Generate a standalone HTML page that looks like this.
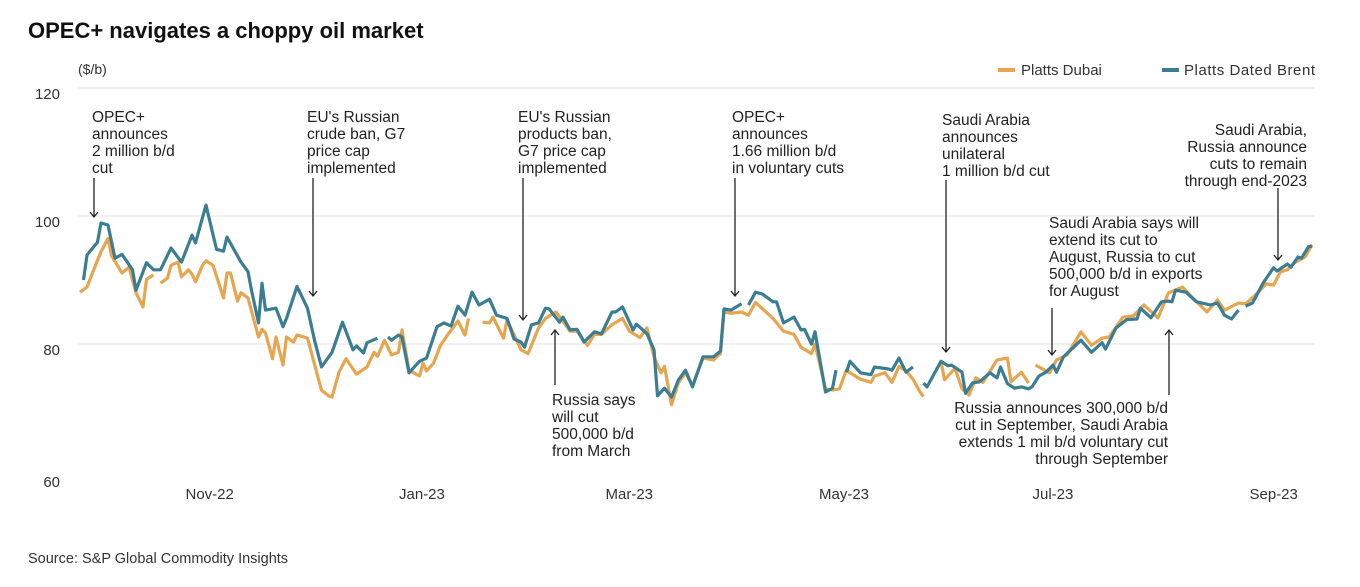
<!DOCTYPE html>
<html><head><meta charset="utf-8"><style>
body{margin:0;background:#fff;font-family:"Liberation Sans",sans-serif;}
svg text{font-family:"Liberation Sans",sans-serif;}
</style></head><body>
<svg id="chart" width="1360" height="582" viewBox="0 0 1360 582" xmlns="http://www.w3.org/2000/svg">
<text x="28" y="38" font-size="22" font-weight="bold" fill="#111">OPEC+ navigates a choppy oil market</text>
<text x="78" y="74" font-size="14" fill="#333">($/b)</text>
<g>
<line x1="998" y1="70" x2="1015" y2="70" stroke="#e8a550" stroke-width="4"/>
<text x="1021" y="75" font-size="15" fill="#333">Platts Dubai</text>
<line x1="1162" y1="70" x2="1179" y2="70" stroke="#3b7d92" stroke-width="4"/>
<text x="1184" y="75" font-size="15" fill="#333" textLength="131">Platts Dated Brent</text>
</g>
<g id="grid"></g><g id="yticks"></g><g id="xticks"></g><g id="series"></g>
<g font-size="15.5" fill="#222">
<text x="92" y="122"><tspan x="92">OPEC+</tspan><tspan x="92" dy="17">announces</tspan><tspan x="92" dy="17">2 million b/d</tspan><tspan x="92" dy="17">cut</tspan></text>
<text x="307" y="122"><tspan x="307">EU's Russian</tspan><tspan x="307" dy="17">crude ban, G7</tspan><tspan x="307" dy="17">price cap</tspan><tspan x="307" dy="17">implemented</tspan></text>
<text x="518" y="122"><tspan x="518">EU's Russian</tspan><tspan x="518" dy="17">products ban,</tspan><tspan x="518" dy="17">G7 price cap</tspan><tspan x="518" dy="17">implemented</tspan></text>
<text x="552" y="405"><tspan x="552">Russia says</tspan><tspan x="552" dy="17">will cut</tspan><tspan x="552" dy="17">500,000 b/d</tspan><tspan x="552" dy="17">from March</tspan></text>
<text x="732" y="122"><tspan x="732">OPEC+</tspan><tspan x="732" dy="17">announces</tspan><tspan x="732" dy="17">1.66 million b/d</tspan><tspan x="732" dy="17">in voluntary cuts</tspan></text>
<text x="942" y="125"><tspan x="942">Saudi Arabia</tspan><tspan x="942" dy="17">announces</tspan><tspan x="942" dy="17">unilateral</tspan><tspan x="942" dy="17">1 million b/d cut</tspan></text>
<text text-anchor="end" x="1307" y="135"><tspan x="1307">Saudi Arabia,</tspan><tspan x="1307" dy="17">Russia announce</tspan><tspan x="1307" dy="17">cuts to remain</tspan><tspan x="1307" dy="17">through end-2023</tspan></text>
<text x="1049" y="228"><tspan x="1049">Saudi Arabia says will</tspan><tspan x="1049" dy="17">extend its cut to</tspan><tspan x="1049" dy="17">August, Russia to cut</tspan><tspan x="1049" dy="17">500,000 b/d in exports</tspan><tspan x="1049" dy="17">for August</tspan></text>
<text text-anchor="end" x="1168" y="413"><tspan x="1168">Russia announces 300,000 b/d</tspan><tspan x="1168" dy="17">cut in September, Saudi Arabia</tspan><tspan x="1168" dy="17">extends 1 mil b/d voluntary cut</tspan><tspan x="1168" dy="17">through September</tspan></text>
</g>
<g stroke="#222" stroke-width="1.3" fill="none">
<path d="M94 178V217M90 212L94 217L98 212"/>
<path d="M313 178V296M309 291L313 296L317 291"/>
<path d="M523 178V320M519 315L523 320L527 315"/>
<path d="M555 385V330M551 335L555 330L559 335"/>
<path d="M735 178V296M731 291L735 296L739 291"/>
<path d="M946 180V352M942 347L946 352L950 347"/>
<path d="M1278 188V260M1274 255L1278 260L1282 255"/>
<path d="M1052 308V355M1048 350L1052 355L1056 350"/>
<path d="M1169 395V330M1165 335L1169 330L1173 335"/>
</g>
<text x="28" y="563" font-size="14.5" fill="#333">Source: S&amp;P Global Commodity Insights</text>
</svg>
<script>
const yTicks=[60,80,100,120];
const monthLabels=["Nov-22","Jan-23","Mar-23","May-23","Jul-23","Sep-23"];
const monthDays=[31,92,151,212,273,335];
const dubaiDays=[0,2,5,6,8,9,12,14,16,18,19,21,null,23,25,26,28,29,31,32,33,35,36,38,41,42,43,45,46,48,51,52,53,55,56,58,59,61,62,65,68,69,71,72,74,76,79,82,84,85,87,89,91,92,94,97,98,99,101,103,105,108,110,111,null,115,117,118,121,122,126,128,131,133,136,138,140,142,145,147,149,152,155,157,160,162,164,166,167,169,171,173,175,178,181,183,184,186,189,191,193,195,198,201,204,206,209,210,213,215,217,219,220,223,226,227,230,232,234,236,238,240,241,null,246,247,250,252,254,256,258,262,265,266,269,271,null,273,277,279,282,286,289,292,294,298,301,304,308,311,315,317,320,322,325,327,331,333,335,339,341,343,345,347,350,352];
const dubaiValues=[88.1,88.9,93.1,94.4,96.5,93.8,91.1,92,88,85.8,90.1,90.8,null,89.5,90.3,92.3,92.8,90.5,91.6,90.9,89.7,92.3,93,92.3,87.2,91.1,91.1,86.7,88,87.2,81.1,82.3,81.7,77.7,81.1,76.7,81.1,80.3,81.4,80.9,74.8,72.8,71.9,71.7,75.6,77.7,75.3,76.4,78.7,78.1,80.6,78.3,78.7,82.2,75.9,75,77,75.8,77,79.8,81.4,83.6,81.4,84,null,83.4,83.3,84.2,80.9,83.8,79.1,78.5,82.5,84,85,83.5,82,82,79.8,81.5,81.5,83,84,82,81,82.5,78,75.5,76.5,70.5,74,75.5,73.5,77.8,77.5,78.5,85,84.8,85,84.5,86.5,85.5,84,82,81.5,79.5,78.5,80,73,72.8,73,76,75.5,74.5,74,75,75.5,74,76.5,75.8,74.5,72.5,71.8,null,77.3,74.4,76.2,73,72,74.7,74,77.5,77.8,74.1,75.6,73.9,null,76.7,75.5,77.5,78.3,81.9,79.8,80.9,81.1,84.2,84.4,86.1,84.1,88,88.9,87.7,86.1,85,86.9,85.3,86.4,86.3,87.2,89.4,89.2,91.3,91.6,92.7,93.6,95.5];
const brentDays=[1,2,5,6,8,10,12,15,16,19,21,23,26,29,32,33,36,39,41,42,46,48,49,51,52,53,56,58,59,62,65,67,69,72,75,78,79,81,82,85,null,88,89,91,92,94,97,99,102,104,106,108,110,112,114,117,119,122,124,126,127,129,131,133,134,137,138,140,142,144,147,149,152,153,155,158,159,162,164,165,167,169,171,173,175,178,181,183,184,186,189,null,191,193,195,198,199,201,204,206,207,209,210,213,215,216,null,219,220,223,226,227,231,232,234,236,238,null,241,242,246,248,249,252,253,255,257,260,262,263,265,267,269,271,272,274,276,278,279,281,286,289,292,293,296,299,302,303,306,309,311,312,313,316,319,323,325,327,329,331,null,333,335,338,341,342,345,346,348,349,351,352];
const brentValues=[90,93.9,95.9,98.9,98.6,93.4,94,91.6,88.4,92.7,91.6,91.6,95,92.8,97,95.8,101.7,94.8,94.5,96.7,92.8,91.3,88.4,83.3,89.5,85.3,85.6,82.7,84,89,85.6,80.6,76.4,78.7,83.4,79.1,79.7,78.6,80.2,80.9,null,81.1,80.6,81.4,81.1,75.5,77.3,77.8,82.7,83.3,82.8,85.9,84.5,88.1,86.1,87,84.5,84,80.8,80.3,79.5,83,83.3,85.6,85.5,83.4,84.2,82.2,82.3,80.3,81.9,81.6,85,85,85.8,82.2,83.1,81.6,79.1,71.9,73.1,71.7,74.4,75.9,73.3,78,78,78.9,85.5,85.3,86.3,null,86.1,88.1,87.8,86.6,86.6,83.3,84.2,82.2,82.3,80,81.9,72.5,73.1,75.9,null,75.6,77.3,75.5,75.2,76.4,76.1,75.9,77.8,75.6,76.4,null,73.9,73.3,77.3,76.6,76.7,75.6,72.3,73.9,74.1,75.5,74.7,76.4,73.8,73.1,73.3,73,73.3,75,75.6,76.7,75.6,78,80.6,78.7,80.2,79.2,82.5,83.8,83.9,85.6,84.1,86.6,86.7,86.6,88.4,88.1,86.6,86.1,86.4,84.5,83.9,85.3,null,85.9,86.4,89.5,91.9,91.4,92.5,92,93.6,93.4,95.2,95.3];
const NS="http://www.w3.org/2000/svg";
function xs(d){return 80+d*3.5;}
function ys(v){return 344-(v-80)*6.4;}
function mk(t,a){const e=document.createElementNS(NS,t);for(const k in a)e.setAttribute(k,a[k]);return e;}
const grid=document.getElementById('grid'),yt=document.getElementById('yticks'),xt=document.getElementById('xticks'),ser=document.getElementById('series');
yTicks.forEach(v=>{
  if(v>60){const l=mk('line',{x1:78,x2:1315,y1:ys(v),y2:ys(v),stroke:'#e6e6e6','stroke-width':1.3});
  
  
  grid.appendChild(l);}
  const t=mk('text',{x:60,y:ys(v)+(v===60?15:11),'text-anchor':'end','font-size':15,fill:'#333'});
  t.textContent=v;
  
  
  yt.appendChild(t);
});
monthLabels.forEach((m,i)=>{
  const t=mk('text',{x:xs(monthDays[i])-3,y:499,'font-size':15,fill:'#333'});
  t.textContent=m;
  
  
  xt.appendChild(t);
});
function path(days,vals){let d='',pen=false;for(let i=0;i<days.length;i++){if(days[i]===null||vals[i]===null){pen=false;continue;}d+=(pen?'L':'M')+xs(days[i]).toFixed(1)+' '+ys(vals[i]).toFixed(1);pen=true;}return d;}
const pd=mk('path',{d:path(dubaiDays,dubaiValues),fill:'none',stroke:'#e8a550','stroke-width':3.2,'stroke-linejoin':'round'});


ser.appendChild(pd);
const pb=mk('path',{d:path(brentDays,brentValues),fill:'none',stroke:'#3b7d92','stroke-width':3.2,'stroke-linejoin':'round'});


ser.appendChild(pb);
</script>
</body></html>
